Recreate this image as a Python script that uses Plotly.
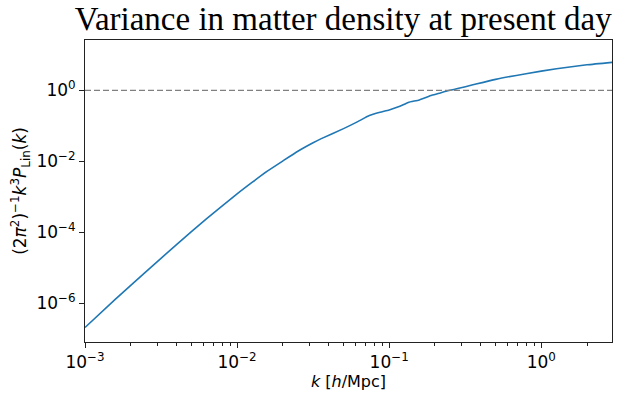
import plotly.graph_objects as go

# Linear matter power spectrum, dimensionless form Delta^2(k) = k^3 P_lin(k) / (2 pi^2), z = 0
k_vals = [0.001, 0.00158, 0.00251, 0.00398, 0.00631, 0.0100, 0.0126, 0.0158,
          0.0200, 0.0251, 0.0316, 0.0355, 0.0501, 0.0617, 0.0741, 0.0871,
          0.100, 0.1175, 0.1334, 0.158, 0.1905, 0.214, 0.251, 0.282, 0.355,
          0.501, 0.794, 1.259, 1.995, 2.92]
delta2_vals = [2.04e-7, 1.26e-6, 7.59e-6, 4.37e-5, 2.40e-4, 1.20e-3, 2.57e-3,
               5.25e-3, 1.02e-2, 1.91e-2, 3.31e-2, 4.27e-2, 8.32e-2, 0.129,
               0.195, 0.240, 0.279, 0.355, 0.457, 0.537, 0.724, 0.832, 1.0,
               1.122, 1.429, 2.04, 2.95, 4.07, 5.25, 6.17]

x_tick_vals = [1e-3, 1e-2, 1e-1, 1e0]
x_tick_text = ["10<sup>−3</sup>", "10<sup>−2</sup>", "10<sup>−1</sup>", "10<sup>0</sup>"]
y_tick_vals = [1e-6, 1e-4, 1e-2, 1e0]
y_tick_text = ["10<sup>−6</sup>", "10<sup>−4</sup>", "10<sup>−2</sup>", "10<sup>0</sup>"]
x_minor_vals = [m * 10.0 ** e for e in (-3, -2, -1, 0) for m in range(2, 10)]

blue = "#1f77b4"
font_main = "DejaVu Sans"

fig = go.Figure()
fig.add_trace(go.Scatter(
    x=k_vals, y=delta2_vals, mode="lines",
    line=dict(color=blue, width=1.6, shape="spline", smoothing=0.5),
    showlegend=False, hoverinfo="skip",
))

# reference level Delta^2 = 1
fig.add_shape(type="line", xref="paper", x0=0, x1=1, yref="y", y0=1, y1=1,
              line=dict(color="#808080", width=1.4, dash="6px,3px"))

axis_common = dict(
    type="log", showgrid=False, zeroline=False, showline=True, mirror=True,
    linecolor="#222222", linewidth=1, ticks="outside", ticklen=5, tickwidth=1,
    tickcolor="#222222", tickfont=dict(family=font_main, size=17, color="black"),
    tickmode="array",
)

fig.update_xaxes(
    **axis_common, range=[-3, 0.465], tickvals=x_tick_vals, ticktext=x_tick_text,
    minor=dict(tickmode="array", tickvals=x_minor_vals, ticks="outside",
               ticklen=3, tickwidth=0.8, tickcolor="#222222", showgrid=False),
    title=dict(text="<i>k</i> [<i>h</i>/Mpc]", standoff=4,
               font=dict(family=font_main, size=16, color="black")),
)
fig.update_yaxes(
    **axis_common, range=[-7.10, 1.42], tickvals=y_tick_vals, ticktext=y_tick_text,
    title=dict(text="(2<i>π</i><sup>2</sup>)<sup>−1</sup><i>k</i><sup>3</sup><i>P</i><sub>Lin</sub>(<i>k</i>)",
               standoff=5, font=dict(family=font_main, size=17, color="black")),
)

fig.update_layout(
    width=628, height=400,
    margin=dict(l=85, r=16, t=40, b=51),
    paper_bgcolor="white", plot_bgcolor="white",
    title=dict(text="Variance in matter density at present day",
               x=0.49, xanchor="center", xref="paper", yref="container",
               y=0.955, yanchor="middle",
               font=dict(family="Liberation Serif", size=33, color="black")),
)

fig.write_html("out.html")
